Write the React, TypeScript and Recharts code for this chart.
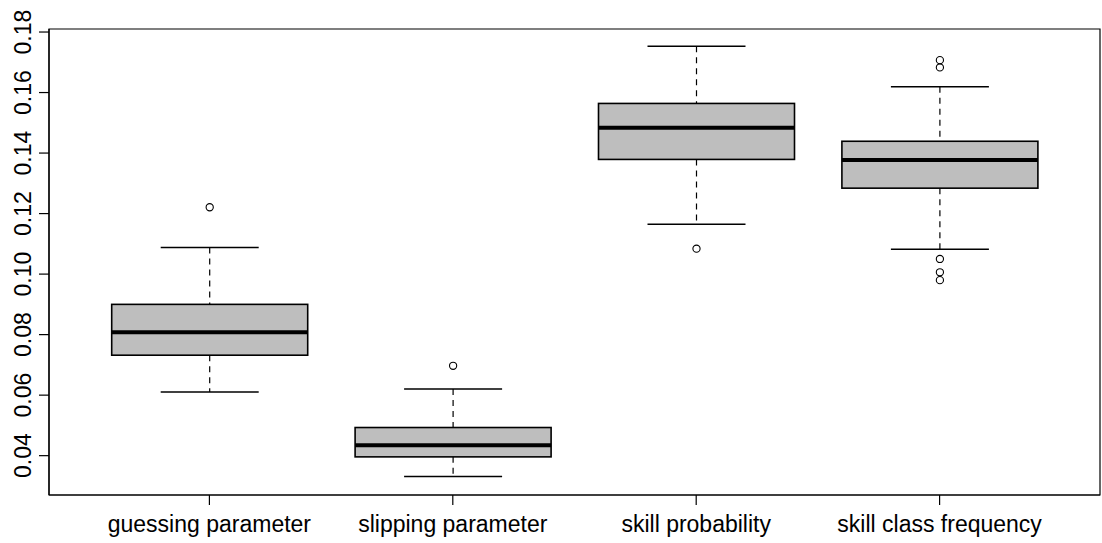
import { Bar, ComposedChart, ReferenceArea, XAxis, YAxis } from 'recharts';

// Five-number summaries per parameter group
const categories = [
  'guessing parameter',
  'slipping parameter',
  'skill probability',
  'skill class frequency',
];
const whiskerLow = [0.061, 0.0331, 0.1165, 0.1082];
const lowerQuartile = [0.0732, 0.0396, 0.1379, 0.1284];
const medians = [0.0808, 0.0434, 0.1484, 0.1377];
const upperQuartile = [0.09, 0.0493, 0.1564, 0.1439];
const whiskerHigh = [0.1088, 0.062, 0.1753, 0.1619];
const outliers = [
  [0.1221],
  [0.0697],
  [0.1084],
  [0.1707, 0.1683, 0.105, 0.1006, 0.098],
];
const xTicks = [1, 2, 3, 4];
const yTicks = [0.04, 0.06, 0.08, 0.1, 0.12, 0.14, 0.16, 0.18];
const xDomain = [0.341, 4.659];
const yDomain = [0.027, 0.181];

const data = categories.map((name, i) => ({
  name,
  pos: i + 1,
  range: [whiskerLow[i], whiskerHigh[i]],
  q1: lowerQuartile[i],
  median: medians[i],
  q3: upperQuartile[i],
  outliers: outliers[i],
}));

const FONT = 'Liberation Sans, Arial, Helvetica, sans-serif';

// Bar spans whisker to whisker; everything else is placed inside that span
const BoxShape = (props: any) => {
  const { x, y, width, height, payload } = props;
  const [lo, hi] = payload.range;
  const toPx = (v: number) => y + ((hi - v) / (hi - lo)) * height;
  const cx = x + width / 2;
  const half = width / 2;
  const staple = width / 4;
  const yQ1 = toPx(payload.q1);
  const yQ3 = toPx(payload.q3);
  const yMed = toPx(payload.median);
  const yLo = toPx(lo);
  const yHi = toPx(hi);
  return (
    <g>
      <line x1={cx} x2={cx} y1={yHi} y2={yQ3} stroke='#000' strokeWidth={1.2} strokeDasharray='6 5' />
      <line x1={cx} x2={cx} y1={yQ1} y2={yLo} stroke='#000' strokeWidth={1.2} strokeDasharray='6 5' />
      <line x1={cx - staple} x2={cx + staple} y1={yHi} y2={yHi} stroke='#000' strokeWidth={1.5} />
      <line x1={cx - staple} x2={cx + staple} y1={yLo} y2={yLo} stroke='#000' strokeWidth={1.5} />
      <rect x={cx - half} y={yQ3} width={width} height={yQ1 - yQ3} fill='#BEBEBE' stroke='#000' strokeWidth={1.6} />
      <line x1={cx - half} x2={cx + half} y1={yMed} y2={yMed} stroke='#000' strokeWidth={4} />
      {payload.outliers.map((v: number, k: number) => (
        <circle key={k} cx={cx} cy={toPx(v)} r={3.6} fill='none' stroke='#000' strokeWidth={1.1} />
      ))}
    </g>
  );
};

const XTick = (props: any) => {
  const { x, y, payload } = props;
  return (
    <text x={x} y={y + 25} textAnchor='middle' fontSize={23} fontFamily={FONT} fill='#000'>
      {categories[payload.value - 1]}
    </text>
  );
};

const YTick = (props: any) => {
  const { y, payload } = props;
  const bx = 31;
  return (
    <text
      x={bx}
      y={y}
      transform={`rotate(-90, ${bx}, ${y})`}
      textAnchor='middle'
      fontSize={23}
      fontFamily={FONT}
      fill='#000'
    >
      {payload.value.toFixed(2)}
    </text>
  );
};

const App = () => {
  return (
    <div style={{ position: 'absolute', left: 0, top: 0, background: '#fff' }}>
      <ComposedChart
        width={1102}
        height={543}
        data={data}
        margin={{ top: 29, right: 2, left: 0, bottom: 0 }}
      >
        <XAxis
          dataKey='pos'
          type='number'
          domain={xDomain}
          ticks={xTicks}
          allowDataOverflow
          height={48}
          axisLine={{ stroke: '#000', strokeWidth: 1.2 }}
          tickLine={{ stroke: '#000', strokeWidth: 1.2 }}
          tickSize={10}
          tick={<XTick />}
          interval={0}
        />
        <YAxis
          type='number'
          domain={yDomain}
          ticks={yTicks}
          width={49}
          allowDataOverflow
          axisLine={{ stroke: '#000', strokeWidth: 1.2 }}
          tickLine={{ stroke: '#000', strokeWidth: 1.2 }}
          tickSize={10}
          tick={<YTick />}
        />
        {/* Plot frame */}
        <ReferenceArea
          x1={xDomain[0]}
          x2={xDomain[1]}
          y1={yDomain[0]}
          y2={yDomain[1]}
          fill='none'
          fillOpacity={0}
          stroke='#000'
          strokeWidth={1.2}
          ifOverflow='visible'
        />
        <Bar
          dataKey='range'
          barSize={196}
          shape={<BoxShape />}
          isAnimationActive={false}
        />
      </ComposedChart>
    </div>
  );
};

export default App;
